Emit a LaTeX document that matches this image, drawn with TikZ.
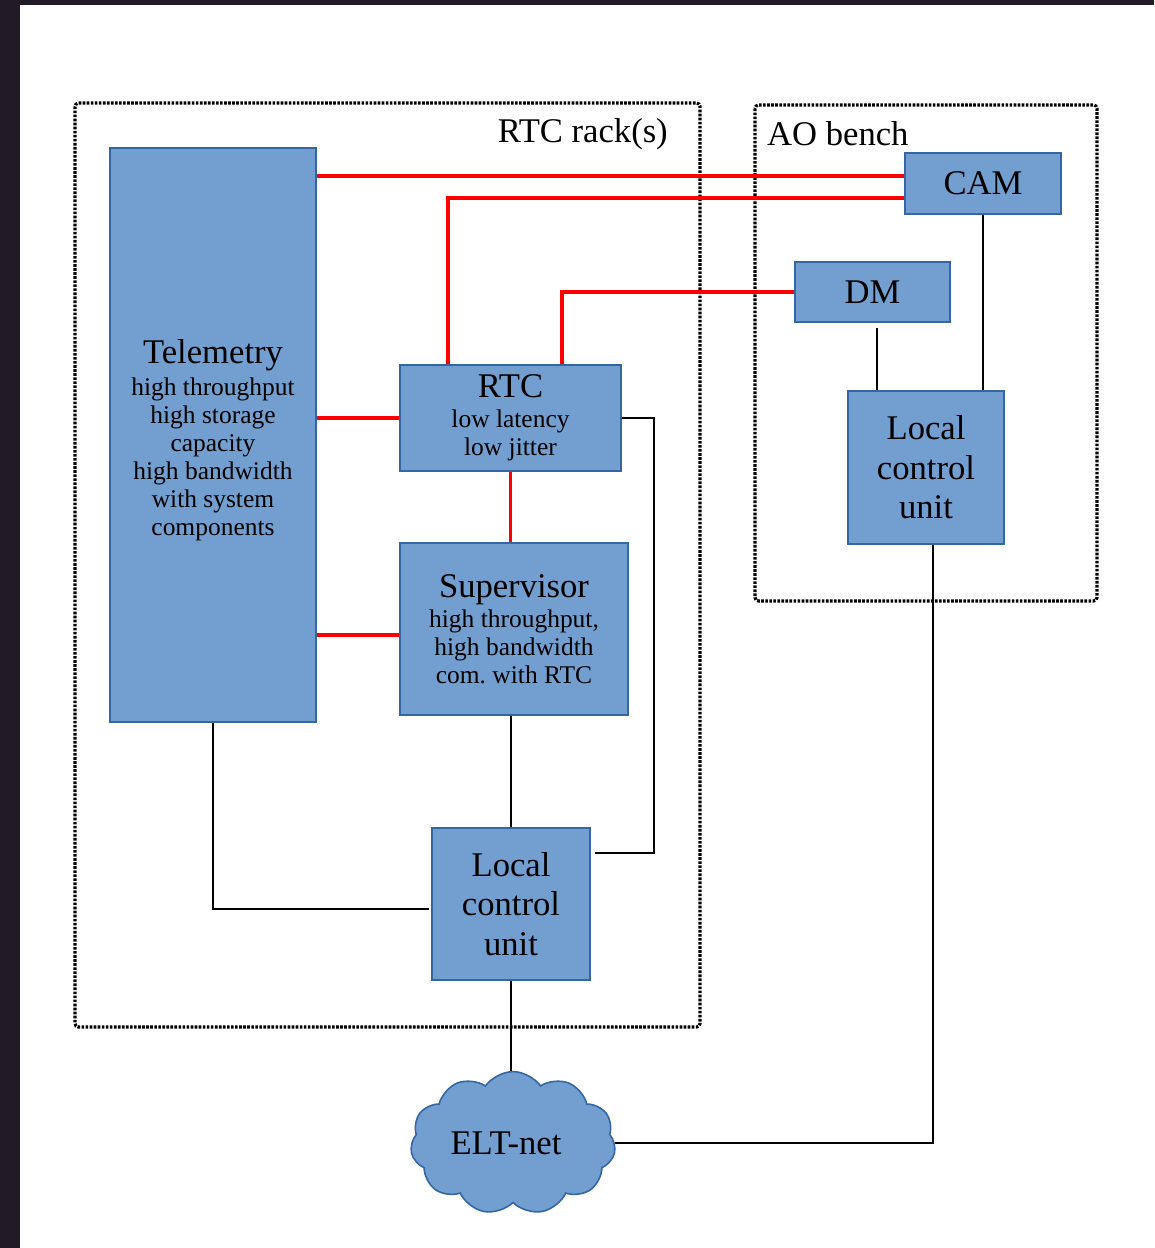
\documentclass[tikz,border=0pt]{standalone}
\usepackage{fontspec}
\setmainfont{Liberation Serif}
\usetikzlibrary{calc,shapes.symbols}
\definecolor{boxfill}{RGB}{114,159,207}
\definecolor{boxline}{RGB}{52,101,164}
\definecolor{frame}{RGB}{34,26,36}
\newcommand{\bigtxt}{\fontsize{19.7}{22.5}\selectfont}
\newcommand{\smalltxt}{\fontsize{14.5}{16}\selectfont}

\begin{document}
\begin{tikzpicture}[x=0.02cm,y=-0.02cm,
  blk/.style={draw=boxline,line width=0.9pt,fill=boxfill,inner sep=0pt,align=center,font=\smalltxt},
  rack/.style={line width=1.8pt,dash pattern=on 1.5pt off 0.8pt,rounded corners=2pt},
  redline/.style={red,line width=2pt},
  link/.style={black,line width=0.9pt}]
  \fill[frame] (0,0) rectangle (1154,1248);
  \fill[white] (20,5) rectangle (1154,1248);
  % enclosures
  \draw[rack] (75,103) rectangle (700,1027);
  \draw[rack] (755,105) rectangle (1097,601);
  \node[anchor=east,font=\bigtxt] (racklbl) at (674,134) {RTC rack(s)};
  \node[anchor=west,font=\bigtxt] (benchlbl) at (761,134) {AO bench};
  % blocks
  \node[blk,minimum width=4.12cm,minimum height=11.48cm] (tele) at (213,435)
    {\\[3.6pt]{\bigtxt Telemetry}\\[2pt]high throughput\\high storage\\capacity\\high bandwidth\\with system\\components};
  \node[blk,minimum width=4.42cm,minimum height=2.12cm] (rtc) at (510.5,418)
    {{\bigtxt RTC}\\[1pt]low latency\\low jitter};
  \node[blk,minimum width=4.56cm,minimum height=3.44cm] (sup) at (514,629)
    {{\bigtxt Supervisor}\\[1pt]high throughput,\\high bandwidth\\com.\ with RTC};
  \node[blk,font=\bigtxt,minimum width=3.16cm,minimum height=3.04cm] (lcu) at (511,904)
    {Local\\control\\unit};
  \node[blk,font=\bigtxt,minimum width=3.12cm,minimum height=1.22cm] (cam) at (983,183.5) {CAM};
  \node[blk,font=\bigtxt,minimum width=3.1cm,minimum height=1.2cm] (dm) at (872.5,292) {DM};
  \node[blk,font=\bigtxt,minimum width=3.12cm,minimum height=3.06cm] (lcuao) at (926,467.5)
    {Local\\control\\unit};
  \node[cloud,cloud puffs=11,cloud puff arc=110,aspect=1.45,draw=boxline,line width=0.9pt,
    fill=boxfill,minimum width=4.1cm,minimum height=2.8cm,inner sep=0pt,font=\bigtxt] (net) at (513,1143)
    {ELT-net\hspace*{8pt}};
  % anchor points
  \coordinate (camA) at ($(cam.west)+(0,-7.5)$);
  \coordinate (camB) at ($(cam.west)+(0,14.5)$);
  \coordinate (rtcA) at ($(rtc.north west)+(49,0)$);
  \coordinate (rtcB) at ($(rtc.north west)+(163,0)$);
  \coordinate (supA) at ($(sup.west)+(0,6)$);
  \coordinate (lcuA) at ($(lcu.east)+(4,-51)$);
  \coordinate (lcuB) at ($(lcu.west)+(-2,5)$);
  \coordinate (lcuaoA) at ($(lcuao.south)+(7,0)$);
  \coordinate (dmA) at ($(dm.south)+(4.5,5)$);
  % data links
  \draw[redline] (tele.east |- camA) -- (camA);
  \draw[redline] (rtcA) |- (camB);
  \draw[redline] (rtcB) |- (dm.west);
  \draw[redline] (tele.east |- rtc.west) -- (rtc.west);
  \draw[redline] (rtc.south) -- (rtc.south |- sup.north);
  \draw[redline] (tele.east |- supA) -- (supA);
  % control links
  \draw[link] (rtc.east) -- ++(32,0) |- (lcuA);
  \draw[link] (sup.south -| lcu.north) -- (lcu.north);
  \draw[link] (tele.south) |- (lcuB);
  \draw[link] (lcu.south) -- (lcu.south |- net.north);
  \draw[link] (net.east) -| (lcuaoA);
  \draw[link] (cam.south) -- (cam.south |- lcuao.north);
  \draw[link] (dmA) -- (dmA |- lcuao.north);
\end{tikzpicture}
\end{document}
